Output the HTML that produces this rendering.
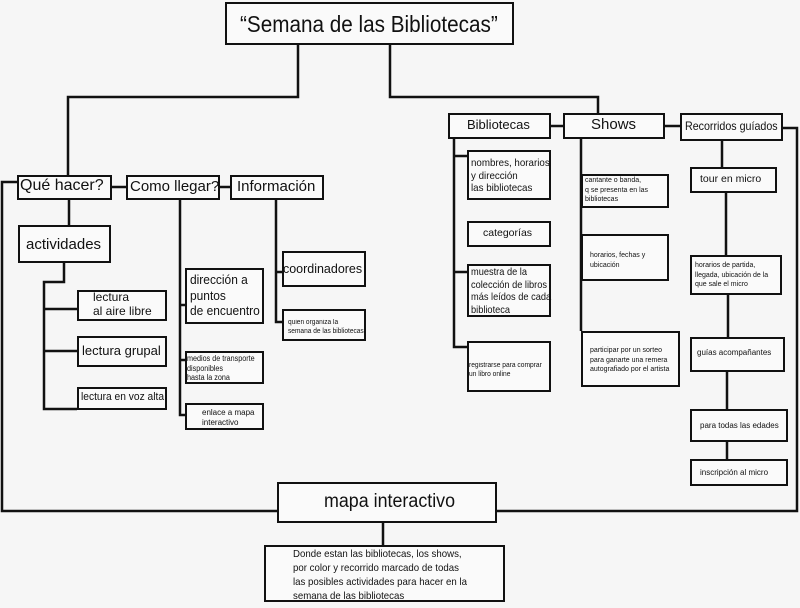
<!DOCTYPE html>
<html><head><meta charset="utf-8"><style>
html,body{margin:0;padding:0;}
body{width:800px;height:608px;background:#f6f6f6;position:relative;overflow:hidden;font-family:"Liberation Sans",sans-serif;color:#111;}
.b{position:absolute;box-sizing:border-box;border:2.5px solid #111;background:#fafafa;}
.t{position:absolute;white-space:nowrap;line-height:1.15;transform-origin:0 0;}
svg{position:absolute;left:0;top:0;}
</style></head><body>
<svg width="800" height="608" stroke="#111" stroke-width="2.5" fill="none">
<polyline points="298,45 298,97 68,97 68,176"/>
<polyline points="390,45 390,97 598,97 598,114"/>
<line x1="112" y1="187" x2="126" y2="187"/>
<line x1="220" y1="187" x2="230" y2="187"/>
<polyline points="17,182 2,182 2,511 277,511"/>
<polyline points="783,128 797,128 797,511 497,511"/>
<line x1="551" y1="126" x2="563" y2="126"/>
<line x1="665" y1="126" x2="680" y2="126"/>
<line x1="383" y1="523" x2="383" y2="545"/>
<line x1="69" y1="200" x2="69" y2="225"/>
<polyline points="64,263 64,282 44,282 44,409 77,409"/>
<line x1="44" y1="309" x2="77" y2="309"/>
<line x1="44" y1="351" x2="77" y2="351"/>
<polyline points="180,200 180,415 185,415"/>
<line x1="180" y1="305" x2="185" y2="305"/>
<line x1="180" y1="360" x2="185" y2="360"/>
<polyline points="276,200 276,322 282,322"/>
<line x1="276" y1="272" x2="282" y2="272"/>
<polyline points="454,139 454,347 467,347"/>
<line x1="454" y1="156" x2="467" y2="156"/>
<line x1="454" y1="272" x2="467" y2="272"/>
<line x1="581" y1="139" x2="581" y2="331"/>
<line x1="722" y1="139" x2="722" y2="168"/>
<line x1="726" y1="193" x2="726" y2="255"/>
<line x1="728" y1="295" x2="728" y2="337"/>
<line x1="727" y1="372" x2="727" y2="409"/>
<line x1="727" y1="442" x2="727" y2="459"/>
</svg>

<div class="b" style="left:225px;top:2px;width:289px;height:43px;"></div>
<div class="t" style="left:240px;top:11px;font-size:23px;transform:scaleX(0.9);">“Semana de las Bibliotecas”</div>

<div class="b" style="left:17px;top:175px;width:95px;height:25px;"></div>
<div class="t" style="left:20px;top:177px;font-size:16px;">Qué hacer?</div>
<div class="b" style="left:126px;top:175px;width:94px;height:25px;"></div>
<div class="t" style="left:130px;top:178px;font-size:15px;">Como llegar?</div>
<div class="b" style="left:230px;top:175px;width:94px;height:25px;"></div>
<div class="t" style="left:237px;top:178px;font-size:15px;">Información</div>

<div class="b" style="left:18px;top:225px;width:93px;height:38px;"></div>
<div class="t" style="left:26px;top:236px;font-size:15px;">actividades</div>
<div class="b" style="left:77px;top:290px;width:90px;height:31px;"></div>
<div class="t" style="left:93px;top:291px;font-size:12px;">lectura<br>al aire libre</div>
<div class="b" style="left:77px;top:336px;width:90px;height:31px;"></div>
<div class="t" style="left:82px;top:344px;font-size:13px;">lectura grupal</div>
<div class="b" style="left:77px;top:387px;width:90px;height:23px;"></div>
<div class="t" style="left:81px;top:391px;font-size:11px;transform:scaleX(0.93);">lectura en voz alta</div>

<div class="b" style="left:185px;top:268px;width:79px;height:56px;"></div>
<div class="t" style="left:190px;top:272px;font-size:13px;line-height:15.5px;transform:scaleX(0.92);">dirección a<br>puntos<br>de encuentro</div>
<div class="b" style="left:185px;top:351px;width:79px;height:33px;"></div>
<div class="t" style="left:187px;top:354px;font-size:8px;line-height:9.5px;transform:scaleX(0.9);">medios de transporte<br>disponibles<br>hasta la zona</div>
<div class="b" style="left:185px;top:403px;width:79px;height:27px;"></div>
<div class="t" style="left:202px;top:408px;font-size:8px;line-height:10px;">enlace a mapa<br>interactivo</div>

<div class="b" style="left:282px;top:251px;width:84px;height:36px;"></div>
<div class="t" style="left:283px;top:262px;font-size:13px;transform:scaleX(0.96);">coordinadores</div>
<div class="b" style="left:282px;top:309px;width:84px;height:32px;"></div>
<div class="t" style="left:288px;top:318px;font-size:7px;line-height:9px;transform:scaleX(0.94);">quien organiza la<br>semana de las bibliotecas</div>

<div class="b" style="left:448px;top:113px;width:103px;height:26px;"></div>
<div class="t" style="left:467px;top:118px;font-size:13px;">Bibliotecas</div>
<div class="b" style="left:563px;top:113px;width:102px;height:26px;"></div>
<div class="t" style="left:591px;top:116px;font-size:15px;">Shows</div>
<div class="b" style="left:680px;top:113px;width:103px;height:28px;"></div>
<div class="t" style="left:685px;top:120px;font-size:12px;transform:scaleX(0.89);">Recorridos guíados</div>

<div class="b" style="left:467px;top:150px;width:84px;height:50px;"></div>
<div class="t" style="left:471px;top:157px;font-size:10.5px;line-height:12.5px;transform:scaleX(0.93);">nombres, horarios<br>y dirección<br>las bibliotecas</div>
<div class="b" style="left:467px;top:221px;width:84px;height:26px;"></div>
<div class="t" style="left:483px;top:227px;font-size:10.5px;">categorías</div>
<div class="b" style="left:467px;top:264px;width:84px;height:53px;"></div>
<div class="t" style="left:471px;top:266px;font-size:10.5px;line-height:12.5px;transform:scaleX(0.88);">muestra de la<br>colección de libros<br>más leídos de cada<br>biblioteca</div>
<div class="b" style="left:467px;top:341px;width:84px;height:51px;"></div>
<div class="t" style="left:469px;top:361px;font-size:7px;line-height:9px;transform:scaleX(0.95);">registrarse para comprar<br>un libro online</div>

<div class="b" style="left:581px;top:174px;width:88px;height:34px;"></div>
<div class="t" style="left:585px;top:176px;font-size:7px;line-height:9.5px;">cantante o banda,<br>q se presenta en las<br>bibliotecas</div>
<div class="b" style="left:581px;top:234px;width:88px;height:47px;"></div>
<div class="t" style="left:590px;top:251px;font-size:7px;line-height:9.5px;">horarios, fechas y<br>ubicación</div>
<div class="b" style="left:581px;top:331px;width:99px;height:56px;"></div>
<div class="t" style="left:590px;top:346px;font-size:7px;line-height:9.5px;">participar por un sorteo<br>para ganarte una remera<br>autografiado por el artista</div>

<div class="b" style="left:690px;top:167px;width:87px;height:26px;"></div>
<div class="t" style="left:700px;top:173px;font-size:10.5px;">tour en micro</div>
<div class="b" style="left:690px;top:255px;width:92px;height:40px;"></div>
<div class="t" style="left:695px;top:261px;font-size:7px;line-height:9.5px;">horarios de partida,<br>llegada, ubicación de la<br>que sale el micro</div>
<div class="b" style="left:690px;top:337px;width:95px;height:35px;"></div>
<div class="t" style="left:697px;top:348px;font-size:8px;">guías acompañantes</div>
<div class="b" style="left:690px;top:409px;width:98px;height:33px;"></div>
<div class="t" style="left:700px;top:421px;font-size:8px;">para todas las edades</div>
<div class="b" style="left:690px;top:459px;width:98px;height:27px;"></div>
<div class="t" style="left:700px;top:468px;font-size:8px;">inscripción al micro</div>

<div class="b" style="left:277px;top:482px;width:220px;height:41px;"></div>
<div class="t" style="left:324px;top:491px;font-size:19px;transform:scaleX(0.94);">mapa interactivo</div>
<div class="b" style="left:264px;top:545px;width:241px;height:57px;"></div>
<div class="t" style="left:293px;top:547px;font-size:10.5px;line-height:14px;transform:scaleX(0.92);">Donde estan las bibliotecas, los shows,<br>por color y recorrido marcado de todas<br>las posibles actividades para hacer en la<br>semana de las bibliotecas</div>
</body></html>
